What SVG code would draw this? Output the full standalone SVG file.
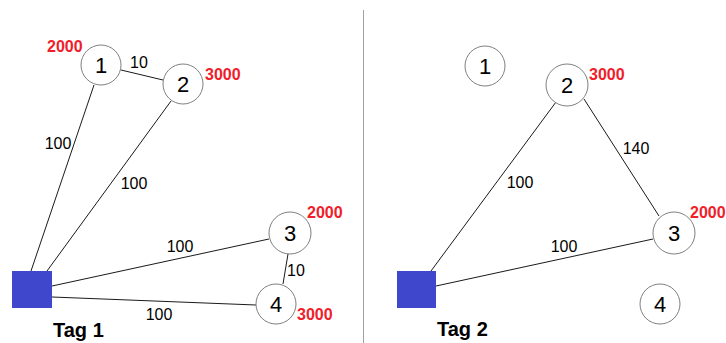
<svg xmlns="http://www.w3.org/2000/svg" width="726" height="343" viewBox="0 0 726 343">
  <style>
    .node circle { fill: #ffffff; stroke: #808080; stroke-width: 1; }
    .node text.id { font-family: "Liberation Sans", Arial, sans-serif; font-size: 22px; fill: #000; text-anchor: middle; }
    .edges line { stroke: #1a1a1a; stroke-width: 1; }
    .w { font-family: "Liberation Sans", Arial, sans-serif; font-size: 16px; fill: #000; text-anchor: middle; }
    .node text.cap { font-family: "Liberation Sans", Arial, sans-serif; font-size: 16px; font-weight: bold; fill: #f0202a; text-anchor: start; }
    .tag { font-family: "Liberation Sans", Arial, sans-serif; font-size: 20px; font-weight: bold; fill: #000; }
    .sink { fill: #3f48cc; }
  </style>

  <!-- divider between the two panels -->
  <line x1="363.5" y1="10" x2="363.5" y2="343" stroke="#a0a0a0" stroke-width="1"/>

  <!-- ===== Tag 1 ===== -->
  <g id="edges-tag1" class="edges">
    <line x1="31" y1="271" x2="94" y2="85"/>
    <line x1="47" y1="271" x2="171" y2="101"/>
    <line x1="121" y1="70" x2="163" y2="80"/>
    <line x1="52" y1="286" x2="269" y2="239"/>
    <line x1="52" y1="297" x2="256" y2="305"/>
    <line x1="288" y1="254" x2="283" y2="284"/>
  </g>
  <g class="weights-tag1">
    <text class="w" x="139" y="68">10</text>
    <text class="w" x="58" y="149">100</text>
    <text class="w" x="134" y="189">100</text>
    <text class="w" x="180" y="252">100</text>
    <text class="w" x="159" y="320">100</text>
    <text class="w" x="296" y="276">10</text>
  </g>

  <g id="t1-sink">
    <rect class="sink" x="12" y="271" width="40" height="37"/>
  </g>
  <g id="t1-n1" class="node">
    <circle cx="101" cy="65" r="20"/>
    <text class="id" x="101" y="73">1</text>
    <text class="cap" x="47" y="52">2000</text>
  </g>
  <g id="t1-n2" class="node">
    <circle cx="183" cy="84" r="20"/>
    <text class="id" x="183" y="92">2</text>
    <text class="cap" x="205" y="80">3000</text>
  </g>
  <g id="t1-n3" class="node">
    <circle cx="290" cy="233" r="21"/>
    <text class="id" x="290" y="241">3</text>
    <text class="cap" x="307" y="218">2000</text>
  </g>
  <g id="t1-n4" class="node">
    <circle cx="276" cy="304" r="20"/>
    <text class="id" x="276" y="312">4</text>
    <text class="cap" x="297" y="320">3000</text>
  </g>
  <text class="tag" x="53" y="337">Tag 1</text>

  <!-- ===== Tag 2 ===== -->
  <g id="edges-tag2" class="edges">
    <line x1="431" y1="271" x2="556" y2="102"/>
    <line x1="584" y1="99" x2="659" y2="216"/>
    <line x1="436" y1="286" x2="653" y2="239"/>
  </g>
  <g class="weights-tag2">
    <text class="w" x="520" y="188">100</text>
    <text class="w" x="636" y="154">140</text>
    <text class="w" x="564" y="252">100</text>
  </g>

  <g id="t2-sink">
    <rect class="sink" x="397" y="271" width="39" height="37"/>
  </g>
  <g id="t2-n1" class="node">
    <circle cx="485" cy="66" r="20"/>
    <text class="id" x="485" y="74">1</text>
  </g>
  <g id="t2-n2" class="node">
    <circle cx="567" cy="85" r="21"/>
    <text class="id" x="567" y="93">2</text>
    <text class="cap" x="589" y="80">3000</text>
  </g>
  <g id="t2-n3" class="node">
    <circle cx="674" cy="233" r="21"/>
    <text class="id" x="674" y="241">3</text>
    <text class="cap" x="690" y="218">2000</text>
  </g>
  <g id="t2-n4" class="node">
    <circle cx="660" cy="304" r="20"/>
    <text class="id" x="660" y="312">4</text>
  </g>
  <text class="tag" x="437" y="336">Tag 2</text>
</svg>
